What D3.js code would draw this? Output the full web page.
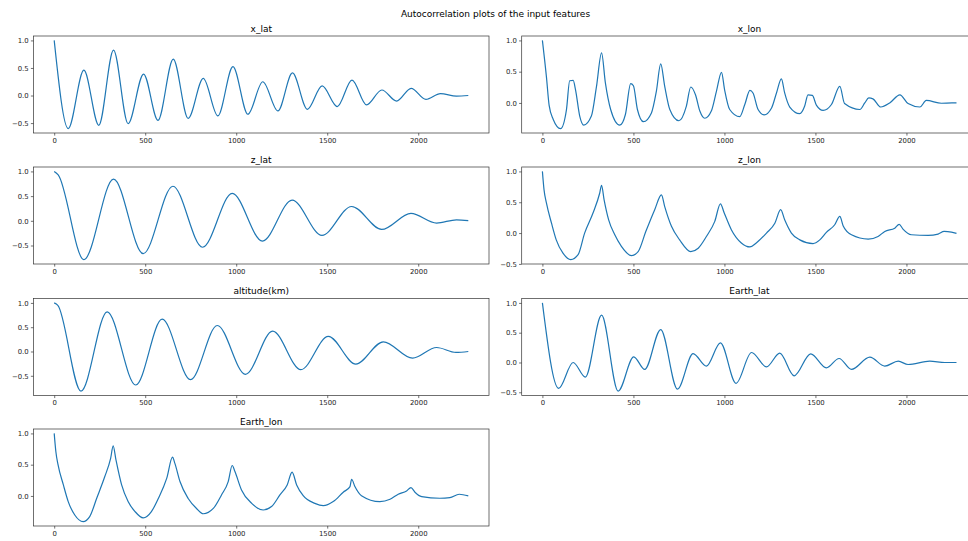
<!DOCTYPE html>
<html>
<head>
<meta charset="utf-8">
<script src="https://d3js.org/d3.v7.min.js"></script>
<style>
  body { margin: 0; background: #fff; }
  text { font-family: "DejaVu Sans", sans-serif; }
</style>
</head>
<body>
<div id="chart"></div>
<script>
// autocorrelation values: [lag, acf]
var xLat = [[0,1.0],[77,-0.60],[163,0.46],[245,-0.54],[326,0.825],[406,-0.51],[491,0.39],[570,-0.45],
    [654,0.66],[736,-0.415],[819,0.31],[899,-0.37],[982,0.525],[1064,-0.34],[1146,0.25],[1229,-0.28],
    [1309,0.41],[1391,-0.25],[1472,0.175],[1555,-0.20],[1636,0.28],[1716,-0.17],[1800,0.10],[1881,-0.10],
    [1961,0.13],[2042,-0.07],[2122,0.035],[2210,-0.01],[2275,0.0]];

var xLon = [[0,1.0],[22,0.42],[37,-0.04],[59,-0.26],[100,-0.41],[132,-0.11],[150,0.355],[169,0.36],
    [182,0.21],[205,-0.21],[227,-0.355],[269,-0.21],[297,0.26],[325,0.80],[346,0.32],[375,-0.105],
    [425,-0.355],[456,-0.185],[485,0.31],[500,0.275],[522,-0.105],[555,-0.30],[599,-0.16],[626,0.185],
    [650,0.625],[672,0.265],[700,-0.105],[750,-0.285],[791,-0.05],[815,0.255],[841,0.13],[865,-0.13],
    [892,-0.245],[928,-0.13],[956,0.185],[984,0.49],[1001,0.21],[1029,-0.105],[1084,-0.22],[1112,-0.025],
    [1140,0.20],[1157,0.16],[1185,-0.105],[1218,-0.19],[1259,-0.08],[1286,0.16],[1313,0.385],[1331,0.16],
    [1359,-0.065],[1414,-0.17],[1441,-0.05],[1459,0.13],[1483,0.12],[1506,-0.04],[1542,-0.12],[1588,-0.025],
    [1634,0.265],[1660,-0.01],[1744,-0.105],[1771,0.0],[1793,0.08],[1816,0.065],[1859,-0.065],[1908,0.0],
    [1964,0.13],[2009,-0.01],[2074,-0.065],[2109,0.04],[2192,-0.005],[2250,0.0],[2275,0.0]];

var zLat = [[0,1.0],[22,0.93],[163,-0.785],[326,0.845],[489,-0.665],[652,0.70],[815,-0.535],[978,0.555],
    [1144,-0.41],[1307,0.42],[1471,-0.295],[1634,0.29],[1799,-0.175],[1960,0.15],[2101,-0.045],
    [2210,0.02],[2275,0.005]];

var zLon = [[0,1.0],[9,0.70],[22,0.49],[50,0.16],[76,-0.11],[113,-0.325],[156,-0.43],[196,-0.35],
    [232,0.0],[278,0.325],[315,0.65],[325,0.775],[339,0.54],[364,0.215],[397,-0.025],[434,-0.215],
    [489,-0.365],[526,-0.30],[568,0.025],[617,0.38],[654,0.62],[672,0.43],[709,0.11],[754,-0.11],
    [815,-0.30],[856,-0.245],[901,-0.055],[947,0.19],[978,0.475],[999,0.325],[1038,0.055],[1093,-0.16],
    [1140,-0.225],[1175,-0.16],[1231,0.0],[1277,0.16],[1309,0.38],[1331,0.215],[1368,0.0],[1414,-0.11],
    [1487,-0.17],[1524,-0.11],[1560,0.01],[1606,0.135],[1634,0.27],[1652,0.12],[1698,-0.027],[1790,-0.097],
    [1844,-0.054],[1881,0.027],[1936,0.08],[1960,0.14],[1981,0.065],[2027,-0.027],[2119,-0.038],
    [2174,-0.016],[2207,0.027],[2247,0.016],[2275,-0.005]];

var altitude = [[0,1.0],[20,0.95],[147,-0.815],[291,0.815],[448,-0.69],[593,0.665],[749,-0.58],[896,0.535],
    [1051,-0.47],[1200,0.42],[1355,-0.375],[1506,0.31],[1657,-0.26],[1808,0.20],[1969,-0.137],
    [2101,0.082],[2207,-0.02],[2275,0.0]];

var earthLat = [[0,1.0],[89,-0.435],[169,0.0],[236,-0.245],[325,0.795],[416,-0.48],[502,0.095],[562,-0.117],
    [650,0.553],[742,-0.447],[828,0.15],[901,-0.06],[978,0.33],[1064,-0.35],[1149,0.168],[1231,-0.073],
    [1304,0.156],[1383,-0.223],[1474,0.145],[1560,-0.09],[1630,0.067],[1698,-0.117],[1799,0.09],
    [1881,-0.06],[1955,0.022],[2009,-0.034],[2128,0.022],[2211,0.0],[2275,0.0]];

var earthLon = [[0,1.0],[9,0.71],[21,0.50],[50,0.18],[77,-0.09],[113,-0.305],[159,-0.41],[195,-0.33],
    [233,-0.04],[278,0.31],[310,0.60],[324,0.80],[339,0.58],[370,0.18],[406,-0.09],[444,-0.25],
    [489,-0.35],[534,-0.25],[572,-0.04],[618,0.28],[650,0.62],[663,0.52],[691,0.23],[736,-0.04],
    [782,-0.20],[819,-0.285],[874,-0.20],[919,0.016],[956,0.23],[978,0.487],[993,0.39],[1029,0.096],
    [1085,-0.118],[1148,-0.225],[1194,-0.17],[1240,0.016],[1280,0.176],[1307,0.38],[1332,0.176],
    [1368,0.005],[1432,-0.118],[1478,-0.155],[1533,-0.09],[1588,0.06],[1625,0.15],[1634,0.267],
    [1652,0.15],[1688,0.005],[1789,-0.09],[1845,-0.053],[1890,0.027],[1936,0.08],[1960,0.134],
    [1982,0.06],[2019,-0.01],[2119,-0.037],[2174,-0.027],[2225,0.027],[2275,0.0]];

var titles = ["x_lat", "x_lon", "z_lat", "z_lon", "altitude(km)", "Earth_lat", "Earth_lon"];
var series = [xLat, xLon, zLat, zLon, altitude, earthLat, earthLon];
var xTicks = [0, 500, 1000, 1500, 2000];
var yTicks = [-0.5, 0.0, 0.5, 1.0];
var suptitle = "Autocorrelation plots of the input features";

var width = 968,
    height = 541,
    axW = 455.5,
    axH = 97,
    colX = [33.5, 521.7],
    rowY = [36, 167, 298.5, 429];

var svg = d3.select("#chart")
    .append("svg")
    .attr("width", width)
    .attr("height", height);

svg.append("text")
    .attr("x", 495.5)
    .attr("y", 16.5)
    .attr("text-anchor", "middle")
    .style("font-size", "9px")
    .attr("fill", "#000")
    .text(suptitle);

var fmt = function(v) { return d3.format(".1f")(v).replace("-", "\u2212"); };

series.forEach(function(data, i) {
    var x0 = colX[i % 2],
        y0 = rowY[Math.floor(i / 2)];

    // matplotlib style 5% margins
    var xMax = d3.max(data, function(d) { return d[0]; });
    var yExt = d3.extent(data, function(d) { return d[1]; });
    var yPad = (yExt[1] - yExt[0]) * 0.05;

    var x = d3.scaleLinear()
        .domain([-xMax * 0.05, xMax * 1.05])
        .range([0, axW]);
    var y = d3.scaleLinear()
        .domain([yExt[0] - yPad, yExt[1] + yPad])
        .range([axH, 0]);

    var g = svg.append("g")
        .attr("transform", "translate(" + x0 + "," + y0 + ")");

    var line = d3.line()
        .x(function(d) { return x(d[0]); })
        .y(function(d) { return y(d[1]); })
        .curve(d3.curveMonotoneX);

    g.append("path")
        .datum(data)
        .attr("d", line)
        .attr("fill", "none")
        .attr("stroke", "#1f77b4")
        .attr("stroke-width", 1.2)
        .attr("stroke-linejoin", "round");

    var xAxis = g.append("g")
        .attr("transform", "translate(0," + axH + ")")
        .call(d3.axisBottom(x).tickValues(xTicks).tickSize(2.6).tickPadding(2.2).tickFormat(d3.format("d")));

    var yAxis = g.append("g")
        .call(d3.axisLeft(y)
            .tickValues(yTicks.filter(function(t) { return t >= y.domain()[0] - 1e-9 && t <= y.domain()[1]; }))
            .tickSize(2.6).tickPadding(2.2).tickFormat(fmt));

    [xAxis, yAxis].forEach(function(a) {
        a.select(".domain").remove();
        a.selectAll(".tick line").attr("stroke", "#333").attr("stroke-width", 0.7);
        a.selectAll(".tick text")
            .attr("fill", "#222")
            .style("font-size", "6.9px")
            .style("font-family", "DejaVu Sans");
    });

    g.append("rect")
        .attr("width", axW)
        .attr("height", axH)
        .attr("fill", "none")
        .attr("stroke", "#333")
        .attr("stroke-width", 0.7);

    g.append("text")
        .attr("x", axW / 2)
        .attr("y", -4.5)
        .attr("text-anchor", "middle")
        .style("font-size", "9px")
        .attr("fill", "#000")
        .text(titles[i]);
});
</script>
</body>
</html>
